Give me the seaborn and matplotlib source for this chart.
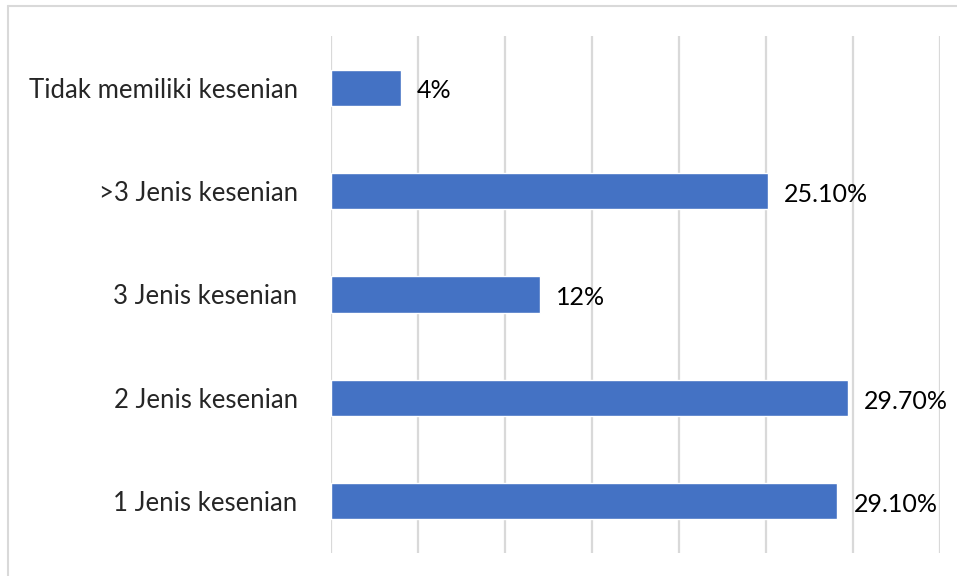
import matplotlib
matplotlib.use("Agg")
import matplotlib.pyplot as plt
import seaborn as sns
import pandas as pd
from matplotlib.lines import Line2D

# data
categories = ["Tidak memiliki kesenian", ">3 Jenis kesenian", "3 Jenis kesenian",
              "2 Jenis kesenian", "1 Jenis kesenian"]
values = [4.0, 25.1, 12.0, 29.7, 29.1]
value_labels = ["4%", "25.10%", "12%", "29.70%", "29.10%"]

df = pd.DataFrame({"kategori": categories, "persen": values})

sns.set_style("white")
plt.rcParams["font.family"] = ["Lato", "DejaVu Sans"]

fig = plt.figure(figsize=(9.57, 5.76), dpi=100)
ax = fig.add_axes([331 / 957, 1 - 553 / 576, (940 - 331) / 957, (553 - 36) / 576])

sns.barplot(data=df, x="persen", y="kategori", color="#4472C4", width=0.35,
            saturation=1, ax=ax, zorder=3)

ax.set_xlim(0, 35)
ax.set_xticks(range(0, 36, 5))
ax.xaxis.grid(True, color="#d9d9d9", linewidth=1.6, zorder=0)
ax.set_axisbelow(True)
ax.tick_params(axis="x", length=0, labelbottom=False)
ax.tick_params(axis="y", length=0, pad=24, labelsize=18.5)
ax.set_xlabel("")
ax.set_ylabel("")
for s in ax.spines.values():
    s.set_visible(False)

for i, (v, lab) in enumerate(zip(values, value_labels)):
    ax.text(v + 0.95, i + 0.03, lab, va="center", ha="left", fontsize=18, color="#000000")

# outer border (top and left only, as in the source image)
fig.add_artist(Line2D([8 / 957, 1], [1 - 6 / 576, 1 - 6 / 576], color="#d9d9d9", linewidth=1.5))
fig.add_artist(Line2D([8 / 957, 8 / 957], [0, 1 - 6 / 576], color="#d9d9d9", linewidth=1.5))

fig.savefig("out.png", dpi=100)
